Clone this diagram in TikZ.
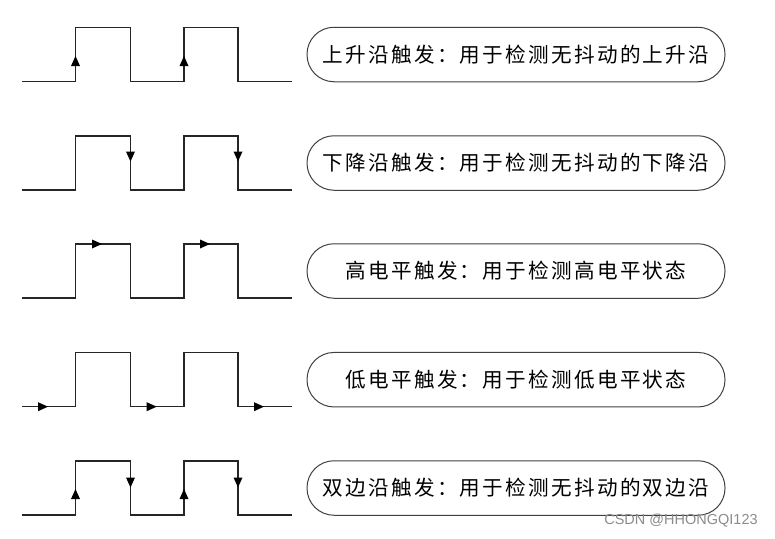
\documentclass[tikz,border=0pt]{standalone}
\usepackage{fontspec}
\setsansfont{Liberation Sans}
\newfontfamily\cjk[LetterSpace=11]{Noto Sans CJK SC}
\tikzset{
  wave/.style={draw=black!85, line width=1.4pt, line join=miter},
  tri/.style={fill=black},
  lbl/.style={draw=black!75, line width=1pt, rounded corners=27pt, minimum width=418pt, minimum height=54.5pt, inner sep=0pt, font=\cjk\fontsize{20.6}{24}\selectfont, text=black},
}
\newcommand\myup[2]{\fill[tri] ({#1-4.5},{#2+10}) -- (#1,#2) -- ({#1+4.5},{#2+10}) -- cycle;}
\newcommand\mydown[2]{\fill[tri] ({#1-4.5},{#2-10}) -- (#1,#2) -- ({#1+4.5},{#2-10}) -- cycle;}
\newcommand\myright[2]{\fill[tri] ({#1-10},{#2-4.5}) -- (#1,#2) -- ({#1-10},{#2+4.5}) -- cycle;}
\begin{document}
\begin{tikzpicture}[x=1pt,y=-1pt]
\useasboundingbox (0,0) rectangle (775,538);
\fill[white] (0,0) rectangle (775,538);
% waveforms
\foreach \h/\n in {27.5/1,136/2,244/3,352.7/4,461/5}{
  \pgfmathsetmacro{\l}{\h+54}
  \draw[wave] (22,\l) -- (75.5,\l) -- (75.5,\h) -- (130.5,\h) -- (130.5,\l) -- (184,\l) -- (184,\h) -- (238,\h) -- (238,\l) -- (292,\l);
}
% row 1 rising arrows
\myup{75.5}{56}
\myup{184}{56}
% row 2 falling arrows
\mydown{130.5}{161.5}
\mydown{238}{161.5}
% row 3 high level arrows
\myright{102}{244}
\myright{210}{244}
% row 4 low level arrows
\myright{48}{406.7}
\myright{156.7}{406.7}
\myright{264}{406.7}
% row 5 both edges
\myup{75.5}{489}
\myup{184}{489}
\mydown{130.5}{487.5}
\mydown{238}{487.5}
% labels
\node[lbl] (t1) at (516,54.5) {上升沿触发：用于检测无抖动的上升沿};
\node[lbl] (t2) at (516,163) {下降沿触发：用于检测无抖动的下降沿};
\node[lbl] (t3) at (516,271) {高电平触发：用于检测高电平状态};
\node[lbl] (t4) at (516,379.7) {低电平触发：用于检测低电平状态};
\node[lbl] (t5) at (516,488) {双边沿触发：用于检测无抖动的双边沿};
\node[text=black!45, font=\sffamily\fontsize{14.5}{16}\selectfont, inner sep=0pt] (wm) at (681,520.5) {CSDN @HHONGQI123};
\end{tikzpicture}
\end{document}
